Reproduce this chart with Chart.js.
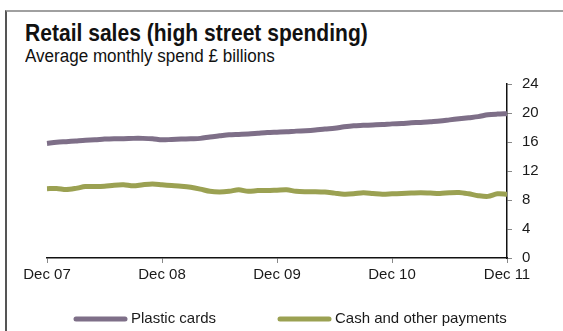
<!DOCTYPE html>
<html>
<head>
<meta charset="utf-8">
<script src="https://cdn.jsdelivr.net/npm/chart.js@4"></script>
<style>
    html, body { margin: 0; padding: 0; background: #fff; }
    body { width: 563px; height: 331px; position: relative; overflow: hidden; font-family: "Liberation Sans", Arial, sans-serif; }
    #frame { position: absolute; left: 5px; top: 10px; right: -2px; bottom: -2px; border-left: 2px solid #555; border-top: 2px solid #a0a0a0; }
    .head { position: absolute; left: 25px; white-space: nowrap; color: #111; transform-origin: 0 0; line-height: normal; }
    #title { top: 19px; font-size: 24px; font-weight: bold; }
    #subtitle { top: 46px; font-size: 18px; }
    #chart-wrap { position: absolute; left: 0; top: 0; width: 563px; height: 331px; }
</style>
</head>
<body>
<div id="frame"></div>
<div id="title" class="head">Retail sales (high street spending)</div>
<div id="subtitle" class="head">Average monthly spend £ billions</div>
<div id="chart-wrap"><canvas id="chart" width="563" height="331"></canvas></div>
<script>
const months = [
    'Dec 07', 'Jan 08', 'Feb 08', 'Mar 08', 'Apr 08', 'May 08', 'Jun 08', 'Jul 08', 'Aug 08', 'Sep 08', 'Oct 08', 'Nov 08',
    'Dec 08', 'Jan 09', 'Feb 09', 'Mar 09', 'Apr 09', 'May 09', 'Jun 09', 'Jul 09', 'Aug 09', 'Sep 09', 'Oct 09', 'Nov 09',
    'Dec 09', 'Jan 10', 'Feb 10', 'Mar 10', 'Apr 10', 'May 10', 'Jun 10', 'Jul 10', 'Aug 10', 'Sep 10', 'Oct 10', 'Nov 10',
    'Dec 10', 'Jan 11', 'Feb 11', 'Mar 11', 'Apr 11', 'May 11', 'Jun 11', 'Jul 11', 'Aug 11', 'Sep 11', 'Oct 11', 'Nov 11',
    'Dec 11'
];
const tickMonths = ['Dec 07', 'Dec 08', 'Dec 09', 'Dec 10', 'Dec 11'];

const plasticCards = [
    15.8, 15.95, 16.05, 16.15, 16.25, 16.3, 16.4, 16.45, 16.45, 16.5, 16.5, 16.45,
    16.3, 16.35, 16.4, 16.45, 16.5, 16.7, 16.85, 17.0, 17.05, 17.1, 17.2, 17.3,
    17.35, 17.4, 17.5, 17.55, 17.65, 17.8, 17.9, 18.1, 18.25, 18.3, 18.35, 18.4,
    18.5, 18.55, 18.65, 18.7, 18.8, 18.9, 19.05, 19.2, 19.35, 19.5, 19.75, 19.85,
    19.9
];
const cashOther = [
    9.55, 9.6, 9.45, 9.6, 9.85, 9.85, 9.9, 10.05, 10.1, 9.95, 10.1, 10.2,
    10.1, 10.0, 9.9, 9.75, 9.5, 9.2, 9.12, 9.2, 9.4, 9.2, 9.3, 9.3,
    9.35, 9.4, 9.2, 9.15, 9.15, 9.1, 8.95, 8.8, 8.85, 9.0, 8.9, 8.8,
    8.85, 8.9, 8.95, 9.0, 8.95, 8.9, 9.0, 9.03, 8.85, 8.6, 8.5, 8.85,
    8.8
];

// squeeze the heading text to the narrow look of the original
[['title', 343], ['subtitle', 250]].forEach(([id, w]) => {
    const el = document.getElementById(id);
    el.style.transform = `scaleX(${w / el.offsetWidth})`;
});

const fontFamily = '"Liberation Sans", Arial, sans-serif';
const textColor = '#1a1a1a';

// legend drawn by hand so the items sit where the original puts them
const bottomLegend = {
    id: 'bottomLegend',
    afterDraw(chart) {
        const ctx = chart.ctx;
        const starts = [74, 278];
        ctx.save();
        ctx.font = `15px ${fontFamily}`;
        ctx.textBaseline = 'middle';
        chart.data.datasets.forEach((ds, i) => {
            const x = starts[i], y = 319;
            ctx.beginPath();
            ctx.lineWidth = 5;
            ctx.lineCap = 'round';
            ctx.strokeStyle = ds.borderColor;
            ctx.moveTo(x + 2, y);
            ctx.lineTo(x + 51, y);
            ctx.stroke();
            ctx.fillStyle = textColor;
            ctx.fillText(ds.label, x + 57, y);
        });
        ctx.restore();
    }
};

new Chart(document.getElementById('chart').getContext('2d'), {
    type: 'line',
    data: {
        labels: months,
        datasets: [
            { label: 'Plastic cards', data: plasticCards, borderColor: '#7e6f88', backgroundColor: '#7e6f88', borderWidth: 5, pointRadius: 0, tension: 0.3 },
            { label: 'Cash and other payments', data: cashOther, borderColor: '#9ba152', backgroundColor: '#9ba152', borderWidth: 5, pointRadius: 0, tension: 0.3 }
        ]
    },
    options: {
        responsive: false,
        animation: false,
        layout: { padding: { left: 47, right: 0, top: 84, bottom: 43 } },
        scales: {
            x: {
                offset: false,
                border: { color: '#111', width: 1.5 },
                grid: { drawOnChartArea: false, drawTicks: true, tickLength: 5, color: '#888' },
                ticks: {
                    autoSkip: false, maxRotation: 0, color: textColor, padding: 3,
                    font: { family: fontFamily, size: 15 },
                    callback: function (v) { return this.getLabelForValue(v); }
                },
                afterBuildTicks: scale => {
                    scale.ticks = scale.ticks.filter(t => tickMonths.includes(months[t.value]));
                },
                afterFit: scale => { scale.height = 30; }
            },
            y: {
                position: 'right',
                min: 0, max: 24,
                border: { color: '#111', width: 1.5 },
                grid: { drawOnChartArea: false, drawTicks: true, tickLength: 5, color: '#888' },
                ticks: { stepSize: 4, color: textColor, padding: 10, font: { family: fontFamily, size: 15 } },
                afterFit: scale => { scale.width = 56; }
            }
        },
        plugins: {
            legend: { display: false },
            tooltip: { enabled: false }
        }
    },
    plugins: [bottomLegend]
});
</script>
</body>
</html>
